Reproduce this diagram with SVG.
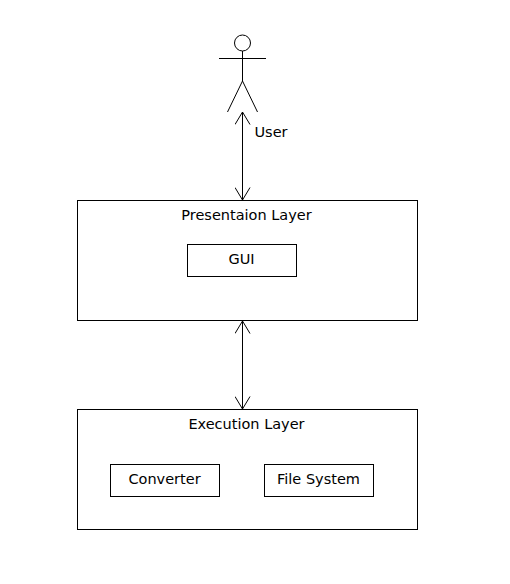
<svg xmlns="http://www.w3.org/2000/svg" width="510" height="584" viewBox="0 0 510 584">
<style>
.s{fill:none;stroke:#000;stroke-width:1}
.b{fill:#fff;stroke:#000;stroke-width:1}
text{font-family:"DejaVu Sans",sans-serif;font-size:14.500px;fill:#000;text-anchor:middle}
</style>
<defs>
<marker id="open" viewBox="-13 -8 14 16" refX="0" refY="0" markerWidth="14" markerHeight="16" markerUnits="userSpaceOnUse" orient="auto-start-reverse"><path d="M-12.500 -7.500L0 0L-12.500 7.500" fill="none" stroke="#000"/></marker>
</defs>
<rect width="510" height="584" fill="#fff"/>
<g id="connectors">
<line class="s" x1="242.500" y1="112" x2="242.500" y2="200" marker-start="url(#open)" marker-end="url(#open)"/>
<line class="s" x1="242.500" y1="321" x2="242.500" y2="409" marker-start="url(#open)" marker-end="url(#open)"/>
</g>
<g id="user">
<circle class="s" cx="242.500" cy="43" r="8"/>
<path class="s" d="M242.500 51V81M219 58.500H266M227.500 112L242.500 81L257.500 112"/>
<text x="271" y="137">User</text>
</g>
<g id="presentation-layer">
<rect class="b" x="77.500" y="200.500" width="340" height="120"/>
<text x="246.500" y="220">Presentaion Layer</text>
</g>
<g id="gui">
<rect class="b" x="187.500" y="244.500" width="109" height="32"/>
<text x="241.500" y="264">GUI</text>
</g>
<g id="execution-layer">
<rect class="b" x="77.500" y="409.500" width="340" height="120"/>
<text x="246.500" y="429">Execution Layer</text>
</g>
<g id="converter">
<rect class="b" x="110.500" y="464.500" width="109" height="32"/>
<text x="164.500" y="484">Converter</text>
</g>
<g id="file-system">
<rect class="b" x="264.500" y="464.500" width="109" height="32"/>
<text x="318.500" y="484">File System</text>
</g>
</svg>
